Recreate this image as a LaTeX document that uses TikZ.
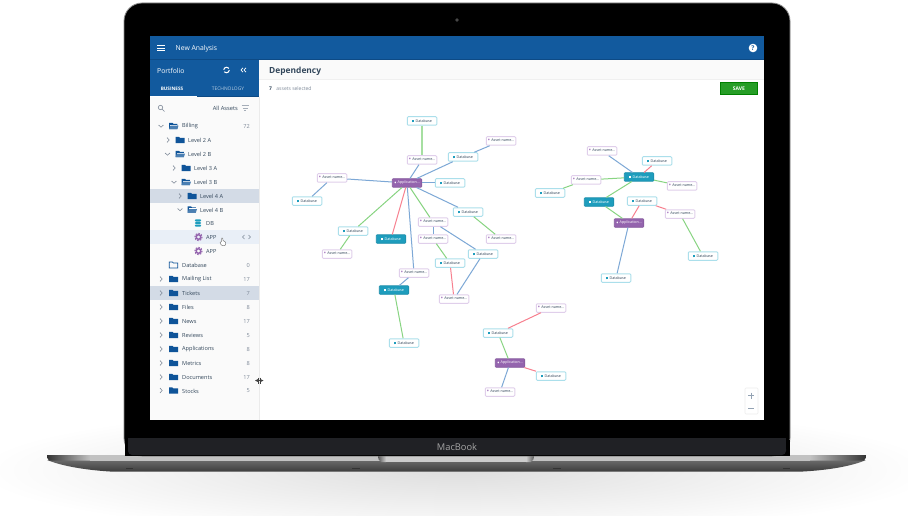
\documentclass[tikz,border=0pt]{standalone}
\usepackage{fontspec}
\setmainfont{Open Sans}
\usetikzlibrary{positioning, calc, shapes}

\definecolor{barblue}{HTML}{125A9E}
\definecolor{barline}{HTML}{0D4A85}
\definecolor{folderblue}{HTML}{0F5499}
\definecolor{rowink}{HTML}{33475B}
\definecolor{countink}{HTML}{7F8A99}
\definecolor{rowdark}{HTML}{D3DBE6}
\definecolor{rowlight}{HTML}{E9EFF7}
\definecolor{dbteal}{HTML}{1E9DBD}
\definecolor{dbedge}{HTML}{ABDFEB}
\definecolor{assetpurple}{HTML}{A678BF}
\definecolor{assetedge}{HTML}{E0CFEB}
\definecolor{apppurple}{HTML}{9464AE}
\definecolor{linkgreen}{HTML}{88D482}
\definecolor{linkblue}{HTML}{7DA8D6}
\definecolor{linkred}{HTML}{F7808F}
\definecolor{chingray}{HTML}{202125}

\tikzset{
    x=1pt, y=-1pt,
    dbbox/.style={draw=dbedge, fill=white, line width=1pt, rounded corners=1pt, minimum width=29.5pt, minimum height=8.5pt, inner sep=0pt,
        text=rowink, font=\fontsize{3.7}{4}\selectfont,
        execute at begin node={\textcolor{dbteal}{\rule{1.5pt}{2.4pt}}\hspace{2pt}}},
    assetbox/.style={draw=assetedge, fill=white, line width=1pt, rounded corners=1pt, minimum width=29.5pt, minimum height=8.5pt, inner sep=0pt,
        text=rowink, font=\fontsize{3.7}{4}\selectfont,
        execute at begin node={\raisebox{-1.3pt}{\textcolor{assetpurple}{\fontsize{7}{4}\selectfont\textbullet}}\hspace{1pt}}},
    tealbox/.style={fill=dbteal, draw=dbteal!90!black, line width=0.6pt, rounded corners=0.8pt, minimum width=29.5pt, minimum height=8.5pt, inner sep=0pt,
        text=white, font=\fontsize{3.7}{4}\selectfont,
        execute at begin node={\textcolor{white}{\rule{1.5pt}{2.4pt}}\hspace{2pt}}},
    appbox/.style={fill=apppurple, draw=apppurple!90!black, line width=0.6pt, rounded corners=0.8pt, minimum width=29.5pt, minimum height=8.5pt, inner sep=0pt,
        text=white, font=\fontsize{3.7}{4}\selectfont,
        execute at begin node={\raisebox{-1.3pt}{\textcolor{white}{\fontsize{7}{4}\selectfont\textbullet}}\hspace{1pt}}},
    greenlink/.style={draw=linkgreen, line width=1pt},
    bluelink/.style={draw=linkblue, line width=1pt},
    redlink/.style={draw=linkred, line width=1pt},
    rowtext/.style={anchor=west, inner sep=0pt, text=rowink, font=\fontsize{5.6}{6}\selectfont},
    rowcount/.style={anchor=east, inner sep=0pt, text=countink, font=\fontsize{5.6}{6}\selectfont},
    bartext/.style={anchor=west, inner sep=0pt, text=white, font=\fontsize{6.8}{8}\selectfont},
    chevright/.pic={\draw[countink, line width=0.6pt] (-1,-2.4) -- (1.2,0) -- (-1,2.4);},
    chevdown/.pic={\draw[countink, line width=0.6pt] (-2.4,-1) -- (0,1.2) -- (2.4,-1);},
    folder/.pic={\fill[folderblue] (-4.5,-3.2) -- (-1.2,-3.2) -- (-0.2,-2.2) -- (4.5,-2.2) -- (4.5,3.2) -- (-4.5,3.2) -- cycle;},
    folderopen/.pic={\fill[folderblue] (-4.5,-3.2) -- (-1.2,-3.2) -- (-0.2,-2.2) -- (3.8,-2.2) -- (3.8,3.2) -- (-4.5,3.2) -- cycle;
        \fill[white] (-3.4,-1.2) -- (3.8,-1.2) -- (3.8,-0.6) -- (-3.4,-0.6) -- cycle;
        \fill[folderblue!75!white] (-3,-0.4) -- (5,-0.4) -- (3.8,3.2) -- (-4.5,3.2) -- cycle;},
    folderline/.pic={\draw[folderblue, line width=0.7pt] (-4.2,-3) -- (-1.2,-3) -- (-0.2,-2) -- (4.2,-2) -- (4.2,3) -- (-4.2,3) -- cycle;},
    gearicon/.pic={\draw[apppurple, line width=1.1pt, dash pattern=on 1.5pt off 1.25pt] (0,0) circle (3.6);
        \draw[apppurple, line width=1.4pt] (0,0) circle (2.3);},
    stackicon/.pic={\fill[dbteal, rounded corners=1pt] (-3.2,-3.6) rectangle (3.2,-1.5);
        \fill[dbteal, rounded corners=1pt] (-3.2,-1) rectangle (3.2,1);
        \fill[dbteal, rounded corners=1pt] (-3.2,1.5) rectangle (3.2,3.6);}
}

\begin{document}
\begin{tikzpicture}
    \useasboundingbox (0,0) rectangle (908,516);

    % shadow and base
    \fill[white] (0,0) rectangle (908,516);
    \shade[inner color=black!13, outer color=white] (457,470) ellipse (480 and 66);
    \shade[top color=black!58, bottom color=black!76] (47,460) .. controls (62,466) and (85,470) .. (110,471.5) -- (803,471.5) .. controls (830,470) and (852,466) .. (866,460) -- cycle;
    \shade[left color=black!80, right color=black!24] (47,455) -- (90,455) -- (90,460.5) -- (49,460.5) .. controls (47,459) and (47,457) .. (47,455) -- cycle;
    \fill[black!24] (90,455) rectangle (810,460.5);
    \shade[right color=black!80, left color=black!24] (810,455) -- (866,455) .. controls (866,457) and (866,459) .. (864,460.5) -- (810,460.5) -- cycle;
    \shade[left color=black!65, right color=black!20] (378,455) -- (386,455) -- (386,462) -- (381,462) .. controls (379,461) and (378,459) .. (378,455) -- cycle;
    \fill[black!20] (386,455) rectangle (526,462);
    \shade[right color=black!65, left color=black!20] (526,455) -- (534,455) .. controls (534,459) and (533,461) .. (531,462) -- (526,462) -- cycle;
    \fill[black!80] (126,467.5) rectangle (133,468.2);
    \fill[black!80] (352,467.5) rectangle (360,468.2);
    \fill[black!80] (553,467.5) rectangle (561,468.2);
    \fill[black!80] (783,467.5) rectangle (790,468.2);

    % lid
    \draw[black!45, line width=0.8pt, fill=black, rounded corners=18pt] (124,456) -- (124,3) -- (790,3) -- (790,456) -- cycle;
    \fill[black] (124.5,440) rectangle (789.5,456);
    \fill[chingray] (128,438) rectangle (786,450);
    \fill[chingray, rounded corners=4pt] (128,445) -- (128,455) -- (786,455) -- (786,445) -- cycle;
    \fill[black!72] (457,20) circle (1.8);
    \node[text=black!35, inner sep=0pt, font=\fontsize{9.3}{10}\selectfont] (brand) at (457,447) {MacBook};

    % screen
    \fill[white] (150,36) rectangle (764,420);
    \fill[black!2] (150,97) rectangle (259,420);
    \draw[black!8, line width=0.5pt] (259,97) -- (259,420);
    \fill[black!2] (259,60) rectangle (764,79);
    \draw[black!6, line width=0.5pt] (259,79) -- (764,79);
    \fill[barblue] (150,36) rectangle (764,60);
    \fill[barline] (150,59.2) rectangle (764,60.4);
    \fill[barblue] (150,60) rectangle (259,97);
    \fill[barline] (197,96.2) rectangle (259,97);
    \fill[white] (150,96) rectangle (197,97.2);

    % header
    \draw[white, line width=1pt] (157,45.6) -- (165,45.6) (157,48.2) -- (165,48.2) (157,50.8) -- (165,50.8);
    \node[bartext] (title) at (175.5,48.5) {New Analysis};
    \node[bartext] (portfolio) at (157,70.5) {Portfolio};
    \draw[white, line width=1pt, dash pattern=on 6.8pt off 2pt] (226.5,70) circle (2.8);
    \draw[white, line width=0.7pt] (243,67.8) -- (241,70) -- (243,72.2) (246,67.8) -- (244,70) -- (246,72.2);
    \node[inner sep=0pt, text=white, font=\fontsize{4.7}{5}\bfseries\selectfont] (business) at (172,88.5) {BUSINESS};
    \node[inner sep=0pt, text=white!70!barblue, font=\fontsize{4.9}{5}\selectfont] (technology) at (228,88.5) {TECHNOLOGY};
    \node[circle, fill=white, inner sep=0pt, minimum size=8.6pt, text=barblue, font=\fontsize{6.5}{7}\bfseries\selectfont] (help) at (753,48) {?};

    \node[anchor=west, inner sep=0pt, text=rowink, font=\fontsize{8.4}{10}\bfseries\selectfont] (dependency) at (269,71) {Dependency};
    \node[anchor=west, inner sep=0pt, text=rowink, font=\fontsize{5}{6}\bfseries\selectfont] (selcount) at (269,88.5) {7};
    \node[anchor=west, inner sep=0pt, text=countink, font=\fontsize{5}{6}\selectfont, right=4pt of selcount] (selected) {assets selected};
    \node[fill=green!55!black!85!white, draw=green!50!black, line width=0.4pt, minimum width=37pt, minimum height=12pt, inner sep=0pt, text=white, font=\fontsize{5}{6}\bfseries\selectfont] (save) at (739,88.3) {SAVE};

    % tree
    \draw[countink, line width=0.6pt] (160.5,107.5) circle (2.2) (162.2,109.2) -- (164.5,111.5);
    \node[rowtext, anchor=east, font=\fontsize{5.7}{6}\selectfont] (allassets) at (238,108.5) {All Assets};
    \draw[countink!70!white, line width=0.5pt] (241.5,105.6) -- (249,105.6) (242.8,108) -- (247.8,108) (244.2,110.4) -- (246.4,110.4);

    \fill[rowdark] (150,189) rectangle (259,203);
    \fill[rowlight] (150,230) rectangle (259,244);
    \fill[rowdark] (150,286) rectangle (259,300);

    \pic at (161,126) {chevdown};
    \pic at (173.5,126) {folderopen};
    \node[rowtext] (billing) at (182,126.5) {Billing};
    \node[rowcount] (billingcount) at (250,126.5) {72};
    \pic at (168,140) {chevright};
    \pic at (180,140) {folder};
    \node[rowtext] (level2a) at (188,140.5) {Level 2 A};
    \pic at (167.5,154) {chevdown};
    \pic at (180,154) {folderopen};
    \node[rowtext] (level2b) at (188,154.5) {Level 2 B};
    \pic at (174,168) {chevright};
    \pic at (186,168) {folder};
    \node[rowtext] (level3a) at (194,168.5) {Level 3 A};
    \pic at (174,182) {chevdown};
    \pic at (186,182) {folderopen};
    \node[rowtext] (level3b) at (194,182.5) {Level 3 B};
    \pic at (180,196) {chevright};
    \pic at (192,196) {folder};
    \node[rowtext] (level4a) at (200,196.5) {Level 4 A};
    \pic at (180,209.5) {chevdown};
    \pic at (192,209.5) {folderopen};
    \node[rowtext] (level4b) at (200,210) {Level 4 B};
    \pic at (198,223) {stackicon};
    \node[rowtext] (leafdb) at (206,223.5) {DB};
    \pic at (198.5,237) {gearicon};
    \node[rowtext] (leafapp) at (206,237.5) {APP};
    \pic at (198.5,251) {gearicon};
    \node[rowtext] (leafapp2) at (206,251.5) {APP};
    \pic at (173.5,265) {folderline};
    \node[rowtext] (database) at (182,265.5) {Database};
    \node[rowcount] (databasecount) at (250,265.5) {0};
    \pic at (161,279) {chevright};
    \pic at (173.5,279) {folder};
    \node[rowtext] (mailing) at (182,279.5) {Mailing List};
    \node[rowcount] (mailingcount) at (250,279.5) {17};
    \pic at (161,293) {chevright};
    \pic at (173.5,293) {folder};
    \node[rowtext] (tickets) at (182,293.5) {Tickets};
    \node[rowcount] (ticketscount) at (250,293.5) {7};
    \pic at (161,307) {chevright};
    \pic at (173.5,307) {folder};
    \node[rowtext] (files) at (182,307.5) {Files};
    \node[rowcount] (filescount) at (250,307.5) {8};
    \pic at (161,321) {chevright};
    \pic at (173.5,321) {folder};
    \node[rowtext] (news) at (182,321.5) {News};
    \node[rowcount] (newscount) at (250,321.5) {17};
    \pic at (161,335) {chevright};
    \pic at (173.5,335) {folder};
    \node[rowtext] (reviews) at (182,335.5) {Reviews};
    \node[rowcount] (reviewscount) at (250,335.5) {5};
    \pic at (161,349) {chevright};
    \pic at (173.5,349) {folder};
    \node[rowtext] (applications) at (182,349.5) {Applications};
    \node[rowcount] (applicationscount) at (250,349.5) {8};
    \pic at (161,363) {chevright};
    \pic at (173.5,363) {folder};
    \node[rowtext] (metrics) at (182,363.5) {Metrics};
    \node[rowcount] (metricscount) at (250,363.5) {8};
    \pic at (161,377) {chevright};
    \pic at (173.5,377) {folder};
    \node[rowtext] (documents) at (182,377.5) {Documents};
    \node[rowcount] (documentscount) at (250,377.5) {17};
    \pic at (161,390.5) {chevright};
    \pic at (173.5,390.5) {folder};
    \node[rowtext] (stocks) at (182,391) {Stocks};
    \node[rowcount] (stockscount) at (250,391) {5};

    % cursors
    \draw[countink, line width=0.6pt] (244.5,235) -- (242.5,237) -- (244.5,239) (248.5,235) -- (250.5,237) -- (248.5,239);
    \draw[black!50, fill=white, line width=0.5pt, rounded corners=0.8pt] (221.5,238) -- (222.8,238) -- (223,241) -- (225.5,241.5) -- (225.5,245.5) -- (221.5,245.5) -- (219.8,242) -- (221.5,242) -- cycle;
    \draw[black!75, line width=0.7pt] (258.6,377.5) -- (258.6,383.5) (259.9,377.5) -- (259.9,383.5);
    \draw[<->, >=stealth, black!75, line width=0.6pt] (255,380.5) -- (263.5,380.5);

    % zoom control
    \draw[black!7, fill=white, line width=0.6pt, rounded corners=1pt] (745,388) rectangle (758,414);
    \draw[linkblue!60!black!60!white, line width=0.7pt] (748,395.5) -- (754,395.5) (751,392.5) -- (751,398.5) (748,408) -- (754,408);

    % left cluster
    \node[dbbox] (dbtop) at (422,121) {Database};
    \node[assetbox] (assettop) at (422,160) {Asset name...};
    \node[dbbox] (dbupper) at (463,157) {Database};
    \node[assetbox] (assetfar) at (501,141) {Asset name...};
    \node[appbox] (appmain) at (407,183) {Application...};
    \node[dbbox] (dbside) at (450,183) {Database};
    \node[assetbox] (assetleft) at (332,178) {Asset name...};
    \node[dbbox] (dbleft) at (307,201) {Database};
    \node[dbbox] (dbmid) at (468,212) {Database};
    \node[assetbox] (assetmid) at (433,222) {Asset name...};
    \node[dbbox] (dblow) at (353,231) {Database};
    \node[tealbox] (tealone) at (391,239) {Database};
    \node[assetbox] (assetunder) at (433,239) {Asset name...};
    \node[assetbox] (assetedge) at (501,239) {Asset name...};
    \node[dbbox] (dbcross) at (483,254) {Database};
    \node[dbbox] (dbunder) at (450,263) {Database};
    \node[assetbox] (assetcorner) at (337,254) {Asset name...};
    \node[assetbox] (assetdown) at (414,273) {Asset name...};
    \node[tealbox] (tealtwo) at (394,290) {Database};
    \node[assetbox] (assetfoot) at (454,299) {Asset name...};
    \node[dbbox] (dbfoot) at (404,343) {Database};

    \draw[greenlink, line width=1.3pt, draw=linkgreen!75!white] (dbtop) -- (assettop);
    \draw[bluelink] (assettop) -- (appmain);
    \draw[bluelink] (appmain) -- (dbupper);
    \draw[bluelink] (dbupper) -- (assetfar);
    \draw[bluelink] (appmain) -- (dbside);
    \draw[bluelink] (appmain) -- (assetleft);
    \draw[bluelink] (assetleft) -- (dbleft);
    \draw[bluelink] (appmain) -- (dbmid);
    \draw[greenlink] (dbmid) -- (assetedge);
    \draw[greenlink] (appmain) -- (assetmid);
    \draw[bluelink] (assetmid) -- (assetunder);
    \draw[bluelink] (assetmid) -- (dbcross);
    \draw[greenlink] (assetunder) -- (dbunder);
    \draw[redlink] (dbunder) -- (assetfoot);
    \draw[bluelink] (dbcross) -- (assetfoot);
    \draw[greenlink] (appmain) -- (dblow);
    \draw[greenlink] (dblow) -- (assetcorner);
    \draw[redlink] (appmain) -- (tealone);
    \draw[bluelink] (appmain) -- (assetdown);
    \draw[bluelink] (assetdown) -- (tealtwo);
    \draw[greenlink] (tealtwo) -- (dbfoot);

    % right cluster
    \node[assetbox] (assetnorth) at (602,151) {Asset name...};
    \node[dbbox] (dbnorth) at (657,161) {Database};
    \node[tealbox] (tealhub) at (639,177) {Database};
    \node[assetbox] (assetwest) at (586,180) {Asset name...};
    \node[assetbox] (asseteast) at (682,186) {Asset name...};
    \node[dbbox] (dbwest) at (550,193) {Database};
    \node[tealbox] (tealsouth) at (599,202) {Database};
    \node[dbbox] (dbcentre) at (642,201) {Database};
    \node[assetbox] (assetsouth) at (680,214) {Asset name...};
    \node[appbox] (appright) at (629,223) {Application...};
    \node[dbbox] (dbeast) at (703,256) {Database};
    \node[dbbox] (dbdown) at (616,278) {Database};

    \draw[bluelink] (assetnorth) -- (tealhub);
    \draw[redlink] (dbnorth) -- (tealhub);
    \draw[greenlink] (assetwest) -- (tealhub);
    \draw[greenlink] (tealhub) -- (asseteast);
    \draw[greenlink] (tealhub) -- (tealsouth);
    \draw[greenlink] (assetwest) -- (dbwest);
    \draw[greenlink] (tealsouth) -- (appright);
    \draw[redlink] (dbcentre) -- (appright);
    \draw[redlink] (dbcentre) -- (assetsouth);
    \draw[greenlink] (assetsouth) -- (dbeast);
    \draw[bluelink] (appright) -- (dbdown);

    % bottom cluster
    \node[assetbox] (assethigh) at (551,308) {Asset name...};
    \node[dbbox] (dbhigh) at (498,333) {Database};
    \node[appbox] (appbottom) at (510,363) {Application...};
    \node[dbbox] (dbright) at (551,376) {Database};
    \node[assetbox] (assetlow) at (500,392) {Asset name...};

    \draw[redlink] (dbhigh) -- (assethigh);
    \draw[greenlink] (dbhigh) -- (appbottom);
    \draw[redlink] (appbottom) -- (dbright);
    \draw[bluelink] (appbottom) -- (assetlow);
\end{tikzpicture}
\end{document}
